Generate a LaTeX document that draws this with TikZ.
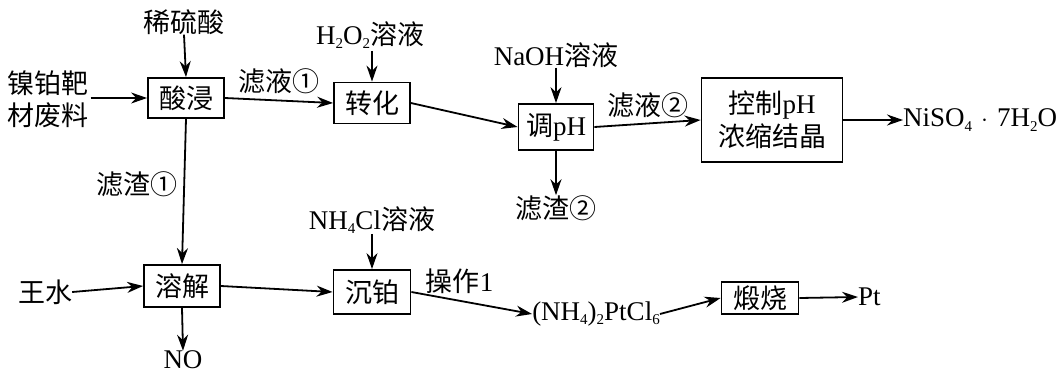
\documentclass[tikz,border=0pt]{standalone}
\usepackage{fontspec}
\setmainfont{Liberation Serif}
\newfontfamily\cj{Noto Sans CJK SC}
\usetikzlibrary{arrows.meta}
\newcommand{\dn}[1]{\raisebox{-0.35ex}{\fontsize{15}{15}\selectfont #1}}
\tikzset{
  every node/.style={font=\fontsize{27}{33}\selectfont, inner sep=0pt},
  box/.style={draw, line width=1.8pt, align=center},
  lbl/.style={align=center},
  flow/.style={line width=1.8pt, -{Stealth[length=16pt,width=11pt]}},
  plain/.style={line width=1.8pt}
}
\begin{document}
\begin{tikzpicture}[x=1pt,y=-1pt]
\useasboundingbox (0,0) rectangle (1061,378);
% boxes
\node[box, minimum width=76pt, minimum height=40pt] (sj) at (186,98) {\cj 酸浸};
\node[box, minimum width=76pt, minimum height=41pt] (zh) at (372,103) {\cj 转化};
\node[box, minimum width=75pt, minimum height=46pt] (tp) at (556,127) {{\cj 调}pH};
\node[box, minimum width=141pt, minimum height=84pt] (kz) at (772,120) {{\cj 控制}pH\\{\cj 浓缩结晶}};
\node[box, minimum width=76pt, minimum height=42pt] (rj) at (182,286) {\cj 溶解};
\node[box, minimum width=77pt, minimum height=44pt] (cb) at (372,292) {\cj 沉铂};
\node[box, minimum width=77pt, minimum height=32pt] (ds) at (760,298) {\cj 煅烧};
% text nodes
\node[lbl] (xls) at (184,22) {\cj 稀硫酸};
\node[lbl] (raw) at (48,99) {\cj 镍铂靶\\[-1pt]\cj 材废料};
\node[lbl] (h2o2) at (370,35) {H\dn{2}O\dn{2}{\cj 溶液}};
\node[lbl] (naoh) at (556,55) {NaOH{\cj 溶液}};
\node[lbl, anchor=west] (niso) at (903,120) {NiSO\dn{4}\,\,$\cdot$\,\,7H\dn{2}O};
\node[lbl] (lz2) at (556,208) {\cj 滤渣②};
\node[lbl] (wsh) at (45,292) {\cj 王水};
\node[lbl] (no) at (183,360) {NO};
\node[lbl] (nh4cl) at (372,220) {NH\dn{4}Cl{\cj 溶液}};
\node[lbl] (pt6) at (596,314) {(NH\dn{4})\dn{2}PtCl\dn{6}};
\node[lbl, anchor=west] (pt) at (858,297) {Pt};
% arrows
\draw[flow] (xls.south) -- (sj.north);
\draw[flow] (raw.east |- sj.west) ++(2,0) -- (sj.west);
\draw[flow] (sj.east) -- node[above=6pt] {\cj 滤液①} (zh.west);
\draw[flow] (h2o2.south -| zh.north) ++(0,2) -- (zh.north);
\draw[flow] (zh.east) -- (tp.west);
\draw[flow] (naoh.south) -- (tp.north);
\draw[flow] (tp.east) -- node[above=5pt] {\cj 滤液②} (kz.west);
\draw[flow] (kz.east) -- (niso.west);
\draw[flow] (tp.south) -- (lz2.north);
\draw[flow] (sj.south) -- node[left=6pt, pos=0.45] {\cj 滤渣①} (rj.north);
\draw[flow] (wsh.east) -- (rj.west);
\draw[flow] (rj.south) -- (no.north);
\draw[flow] (rj.east) -- (cb.west);
\draw[flow] (nh4cl.south) -- (cb.north);
\draw[flow] (cb.east) -- node[above=6pt, pos=0.4] {{\cj 操作}1} (pt6.west);
\draw[flow] (pt6.east) -- (ds.west);
\draw[flow] (ds.east) -- (pt.west);
\end{tikzpicture}
\end{document}
